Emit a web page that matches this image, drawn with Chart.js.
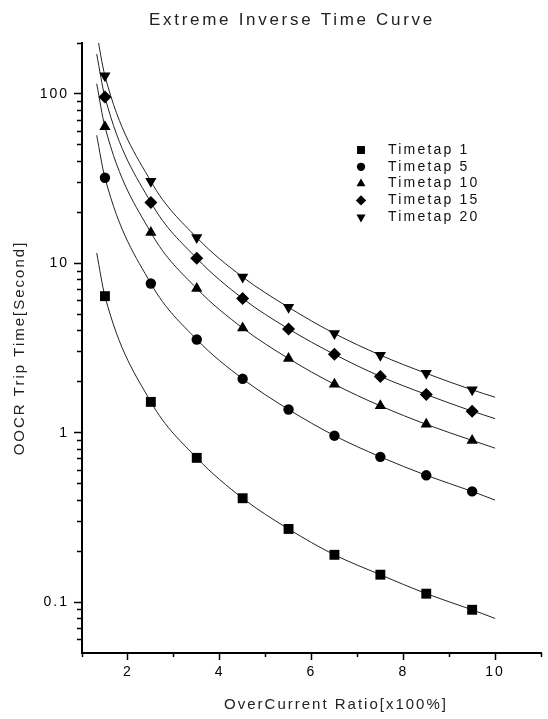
<!DOCTYPE html>
<html>
<head>
<meta charset="utf-8">
<script src="https://cdn.jsdelivr.net/npm/chart.js@4.4.1/dist/chart.umd.min.js"></script>
<style>
  html, body { margin: 0; padding: 0; background: #fff; }
  #wrap { width: 548px; height: 719px; }
</style>
</head>
<body>
<div id="wrap"><canvas id="grafico"></canvas></div>
<script>
// valores
const ratioMarcas = [1.5, 2.5, 3.5, 4.5, 5.5, 6.5, 7.5, 8.5, 9.5];
const ratioInicio = 1.32;
const ratioFim = 10;

const nomesTap = ["Timetap 1", "Timetap 5", "Timetap 10", "Timetap 15", "Timetap 20"];
const tap1 = [6.4, 1.52, 0.71, 0.41, 0.27, 0.19, 0.145, 0.112, 0.09];
const tap5 = [32, 7.6, 3.55, 2.08, 1.37, 0.96, 0.72, 0.56, 0.45];
const tap10 = [64, 15.2, 7.1, 4.15, 2.74, 1.93, 1.44, 1.12, 0.9];
const tap15 = [96, 22.9, 10.7, 6.2, 4.1, 2.9, 2.15, 1.68, 1.34];
const tap20 = [128, 30.5, 14.2, 8.3, 5.5, 3.85, 2.87, 2.24, 1.79];
const curvaInicio = [11.5, 57, 115, 172, 230];
const curvaFim = [0.08, 0.4, 0.81, 1.21, 1.62];

const xMaiores = [2, 4, 6, 8, 10];
const xMenores = [1, 3, 5, 7, 9, 11];
const yMaiores = [0.1, 1, 10, 100];
const yRotulos = ["0.1", "1", "10", "100"];
const yMenores = [0.06, 0.07, 0.08, 0.09, 0.2, 0.3, 0.4, 0.5, 0.6, 0.7, 0.8, 0.9,
  2, 3, 4, 5, 6, 7, 8, 9, 20, 30, 40, 50, 60, 70, 80, 90, 200];

const titulo = "Extreme Inverse Time Curve";
const tituloX = "OverCurrent Ratio[x100%]";
const tituloY = "OOCR Trip Time[Second]";

const series = [tap1, tap5, tap10, tap15, tap20];
const estilos = [
  { pointStyle: "rect", radius: 7, rotation: 0 },
  { pointStyle: "circle", radius: 5.2, rotation: 0 },
  { pointStyle: "triangle", radius: 6.5, rotation: 0 },
  { pointStyle: "rectRot", radius: 6.5, rotation: 0 },
  { pointStyle: "triangle", radius: 6.5, rotation: 180 }
];

const fonte = "'Liberation Sans', Arial, sans-serif";

const datasets = [];
series.forEach((vals, i) => {
  datasets.push({
    label: nomesTap[i],
    marcador: true,
    data: ratioMarcas.map((x, j) => ({ x: x, y: vals[j] })),
    showLine: false,
    pointStyle: estilos[i].pointStyle,
    pointRadius: estilos[i].radius,
    pointRotation: estilos[i].rotation,
    pointBackgroundColor: "#000",
    pointBorderColor: "#000",
    pointBorderWidth: 0,
    pointHoverRadius: estilos[i].radius
  });
});
series.forEach((vals, i) => {
  const xs = [ratioInicio, ...ratioMarcas, ratioFim];
  const ys = [curvaInicio[i], ...vals, curvaFim[i]];
  datasets.push({
    label: nomesTap[i] + " curva",
    data: xs.map((x, j) => ({ x: x, y: ys[j] })),
    showLine: true,
    borderColor: "#222",
    borderWidth: 1,
    pointRadius: 0,
    cubicInterpolationMode: "monotone",
    fill: false
  });
});

const textoPlugin = {
  id: "textoExtra",
  beforeDraw(chart) {
    chart.ctx.letterSpacing = "2px";
  },
  afterDraw(chart) {
    const ctx = chart.ctx;
    const area = chart.chartArea;
    ctx.save();
    ctx.textBaseline = "middle";
    ctx.textAlign = "center";
    // título
    ctx.letterSpacing = "2.7px";
    ctx.fillStyle = "#222";
    ctx.font = "17px " + fonte;
    ctx.fillText(titulo, 292, 20);
    // títulos dos eixos
    ctx.letterSpacing = "2px";
    ctx.font = "15px " + fonte;
    ctx.fillText(tituloX, 336, 705);
    ctx.save();
    ctx.translate(20, (area.top + area.bottom) / 2);
    ctx.rotate(-Math.PI / 2);
    ctx.fillText(tituloY, 0, 0);
    ctx.restore();
    // legenda
    ctx.letterSpacing = "2.2px";
    ctx.font = "14px " + fonte;
    ctx.textAlign = "left";
    let n = 0;
    chart.data.datasets.forEach(ds => {
      if (!ds.marcador) return;
      const y = 150 + n * 16.8;
      ctx.fillStyle = "#000";
      Chart.helpers.drawPoint(ctx, {
        pointStyle: ds.pointStyle,
        radius: ds.pointRadius * 0.8,
        rotation: ds.pointRotation,
        borderWidth: 0
      }, 361, y);
      ctx.fillStyle = "#111";
      ctx.fillText(ds.label, 388, y);
      n++;
    });
    ctx.restore();
  }
};

const gradeEixo = (len) => ({
  display: true,
  drawOnChartArea: false,
  drawTicks: true,
  tickLength: len,
  tickColor: "#000",
  tickWidth: 1.5
});

new Chart(document.getElementById("grafico"), {
  type: "scatter",
  data: { datasets: datasets },
  plugins: [textoPlugin],
  options: {
    responsive: true,
    maintainAspectRatio: false,
    animation: false,
    layout: { padding: { top: 43, right: 5, left: 0, bottom: 0 } },
    plugins: {
      legend: { display: false },
      tooltip: { enabled: false },
      title: { display: false }
    },
    scales: {
      x: {
        type: "linear",
        position: "bottom",
        weight: 1,
        min: 1,
        max: 11,
        afterBuildTicks: s => { s.ticks = xMaiores.map(v => ({ value: v })); },
        afterFit: s => { s.height = 66; },
        ticks: { color: "#000", padding: 4, font: { family: fonte, size: 14 }, callback: v => String(v) },
        grid: gradeEixo(7),
        border: { display: true, color: "#000", width: 2 }
      },
      x2: {
        type: "linear",
        position: "bottom",
        weight: 0,
        min: 1,
        max: 11,
        afterBuildTicks: s => { s.ticks = xMenores.map(v => ({ value: v })); },
        afterFit: s => { s.height = 0; },
        ticks: { display: false },
        grid: gradeEixo(4),
        border: { display: false }
      },
      y: {
        type: "logarithmic",
        position: "left",
        weight: 1,
        min: 0.05,
        max: 200,
        afterBuildTicks: s => { s.ticks = yMaiores.map(v => ({ value: v })); },
        afterFit: s => { s.width = 82; },
        ticks: {
          color: "#000",
          padding: 5,
          font: { family: fonte, size: 14 },
          callback: (v) => yRotulos[yMaiores.indexOf(v)]
        },
        grid: gradeEixo(8),
        border: { display: true, color: "#000", width: 2 }
      },
      y2: {
        type: "logarithmic",
        position: "left",
        weight: 0,
        min: 0.05,
        max: 200,
        afterBuildTicks: s => { s.ticks = yMenores.map(v => ({ value: v })); },
        afterFit: s => { s.width = 0; },
        ticks: { display: false },
        grid: gradeEixo(5),
        border: { display: false }
      }
    }
  }
});
</script>
</body>
</html>
